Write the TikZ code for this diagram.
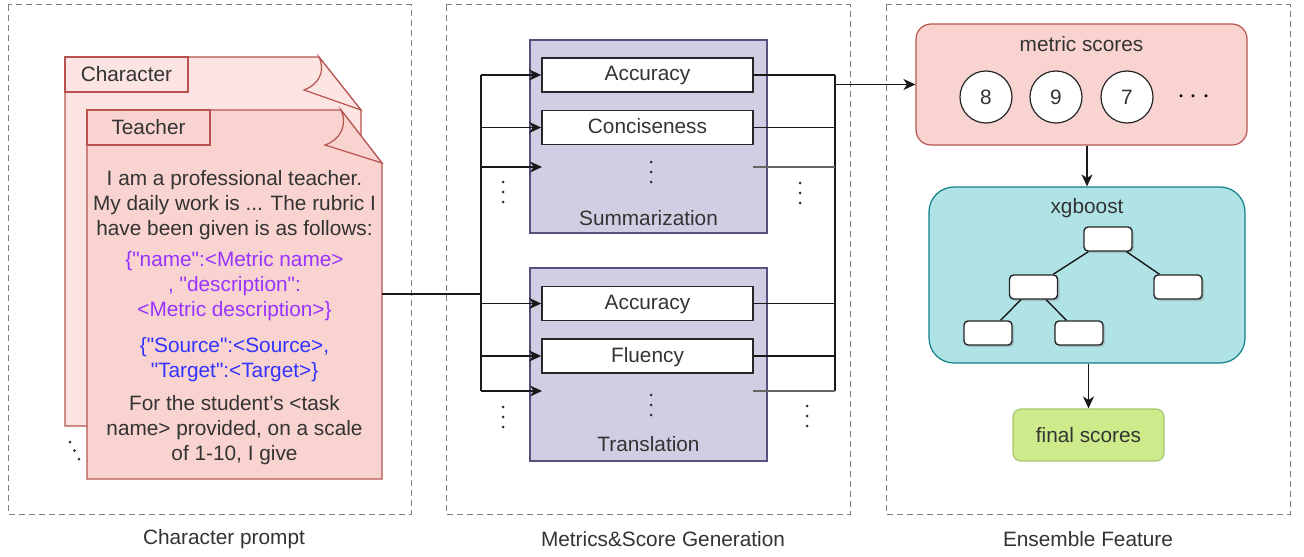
\documentclass[tikz,border=0pt]{standalone}
\usepackage{fontspec}
\setmainfont{Liberation Sans}[Ligatures=TeXOff]
\usepackage{tikz}
\usetikzlibrary{positioning, calc, arrows.meta, shadows}
\definecolor{docline}{HTML}{B85450}
\definecolor{docfill}{HTML}{F8D3CF}
\definecolor{docback}{HTML}{FBE4E2}
\definecolor{taskfill}{HTML}{D0CEE2}
\definecolor{taskline}{HTML}{56517E}
\definecolor{boostfill}{HTML}{B0E3E6}
\definecolor{boostline}{HTML}{0E8088}
\definecolor{finalfill}{HTML}{CDEB8B}
\definecolor{finalline}{HTML}{A7C56F}
\definecolor{txtgray}{HTML}{333333}
\definecolor{jsonpurple}{HTML}{9933FF}
\definecolor{jsonblue}{HTML}{3333FF}
\tikzset{
	paneltext/.style={font=\fontsize{10.4}{12.5}\selectfont\color{txtgray}, inner sep=0pt}
}
\tikzset{
	panel/.style={draw=gray, dash pattern=on 3pt off 2pt, line width=0.5pt}
}
\tikzset{
	metricbox/.style={draw=black!85, fill=white, line width=0.8pt, minimum width=105.5pt, minimum height=17pt, text height=7.6pt, text depth=1.6pt, paneltext},
	taskbox/.style={draw=taskline, fill=taskfill, line width=0.6pt, minimum width=118.5pt, minimum height=96.5pt},
	scorecircle/.style={circle, draw=black!85, fill=white, line width=0.6pt, minimum size=26pt, paneltext},
	treenode/.style={draw=black!85, fill=white, rounded corners=2pt, line width=0.7pt, minimum width=24pt, minimum height=12pt,
		drop shadow={shadow xshift=1pt, shadow yshift=-1pt, opacity=0.35}},
	link/.style={line width=0.7pt, black!90},
	linkarrow/.style={link, -{Stealth[length=6pt, width=5.5pt, inset=1.8pt]}}
}
\newcommand{\vdotsat}[2]{\foreach \d in {-1,0,1} \fill[black!80] (#1,#2+10*\d) circle[radius=1.5];}

\begin{document}
\begin{tikzpicture}[x=0.5pt, y=-0.5pt]
  \useasboundingbox (0,0) rectangle (1304,556);
  % panels
  \draw[panel] (8,5) rectangle (411,514);
  \draw[panel] (446,5) rectangle (850,514);
  \draw[panel] (886,5) rectangle (1290,514);
  \node[paneltext] (promptlabel) at (224,539) {Character prompt};
  \node[paneltext] (genlabel) at (663,539) {Metrics\&Score Generation};
  \node[paneltext] (enslabel) at (1088,539) {Ensemble Feature};

  % character cards
  \draw[docline, fill=docback, line width=0.6pt] (65,57) -- (319,57) -- (361,110) -- (361,426) -- (65,426) -- cycle;
  \draw[docline, fill=docback, line width=0.6pt] (319,57) .. controls (326,72) and (318,85) .. (304,90) -- (361,110) -- cycle;
  \draw[docline, fill=docback, line width=0.6pt] (65,57) rectangle (188,92);
  \node[paneltext] (charactertab) at (126.5,74.5) {Character};
  \fill[black!80] (70,442) circle[radius=1.5] (74.5,450.5) circle[radius=1.5] (79,459) circle[radius=1.5];

  \draw[docline, fill=docfill, line width=0.6pt] (87,110) -- (341,110) -- (382,163) -- (382,479) -- (87,479) -- cycle;
  \draw[docline, fill=docfill, line width=0.6pt] (341,110) .. controls (348,125) and (340,140) .. (325,145) -- (382,163) -- cycle;
  \draw[docline, fill=docfill, line width=0.6pt] (87,110) rectangle (210,145);
  \node[paneltext] (teachertab) at (148.5,127.5) {Teacher};
  \node[paneltext, align=center] (intro) at (234.5,205) {I am a professional teacher.\\My daily work is ... The rubric I\\have been given is as follows:};
  \node[paneltext, align=center, color=jsonpurple] (rubric) at (234.5,286) {\{"name":<Metric name>\\, "description":\\<Metric description>\}};
  \node[paneltext, align=center, color=jsonblue] (pair) at (234.5,360) {\{"Source":<Source>,\\"Target":<Target>\}};
  \node[paneltext, align=center] (ask) at (234.5,430) {For the student’s <task\\name> provided, on a scale\\of 1-10, I give};
  \coordinate (promptout) at (382,294);

  % task groups
  \node[taskbox] (summ) at (648.5,136.5) {};
  \node[paneltext] (summlabel) at (648.5,218) {Summarization};
  \node[metricbox] (sacc) at (647.5,75) {Accuracy};
  \node[metricbox] (scon) at (647.5,127.5) {Conciseness};
  \vdotsat{651}{172}
  \node[taskbox] (trans) at (648.5,364.5) {};
  \node[paneltext] (translabel) at (648.5,444) {Translation};
  \node[metricbox] (tacc) at (647.5,303.5) {Accuracy};
  \node[metricbox] (tflu) at (647.5,356) {Fluency};
  \vdotsat{651}{405}
  \vdotsat{503}{192}
  \vdotsat{800}{193}
  \vdotsat{503}{417}
  \vdotsat{807}{416}

  % buses
  \coordinate (lbustop) at (481,75);
  \coordinate (lbusbot) at (481,391);
  \coordinate (rbustop) at (835,75);
  \coordinate (rbusbot) at (835,391);
  \coordinate (sdotin) at (542,167);
  \coordinate (sdotout) at (753,167);
  \coordinate (tdotin) at (542,391);
  \coordinate (tdotout) at (753,391);
  \draw[link] (promptout) -- (lbustop |- promptout);
  \draw[link] (lbustop) -- (lbusbot);
  \draw[link] (rbustop) -- (rbusbot);
  \foreach \b in {sacc, scon, tacc, tflu} {
    \draw[linkarrow] (lbustop |- \b.west) -- (\b.west);
    \draw[link] (\b.east) -- (rbustop |- \b.east);
  }
  \foreach \b in {sdot, tdot} {
    \draw[linkarrow] (lbustop |- \b in) -- (\b in);
    \draw[link, black!60] (\b out) -- (rbustop |- \b out);
  }

  % ensemble
  \node[draw=docline, fill=docfill, rounded corners=7.5pt, line width=0.6pt, minimum width=165.5pt, minimum height=60.5pt] (scores) at (1081.5,84.5) {};
  \node[paneltext] (scoreslabel) at (1081.5,44) {metric scores};
  \node[scorecircle] (s8) at (986,97) {8};
  \node[scorecircle] (s9) at (1056,97) {9};
  \node[scorecircle] (s7) at (1127,97) {7};
  \node[paneltext, font=\fontsize{15}{15}\selectfont] (smore) at (1194,97) {$\cdots$};
  \draw[linkarrow, line width=0.9pt] (rbustop |- scores.west) -- (scores.west);

  \node[draw=boostline, fill=boostfill, rounded corners=12.5pt, line width=0.6pt, minimum width=158pt, minimum height=88pt] (boost) at (1087,275) {};
  \node[paneltext] (boostlabel) at (1087,208) {xgboost};
  \node[treenode] (root) at (1108,239) {};
  \node[treenode] (lc) at (1033.5,287) {};
  \node[treenode] (rc) at (1178,287) {};
  \node[treenode] (ll) at (988,333) {};
  \node[treenode] (lr) at (1079,333) {};
  \draw[link] (root) -- (lc);
  \draw[link] (root) -- (rc);
  \draw[link] (lc) -- (ll);
  \draw[link] (lc) -- (lr);

  \node[draw=finalline, fill=finalfill, rounded corners=4pt, line width=0.6pt, minimum width=75.5pt, minimum height=26pt, paneltext] (final) at (1088.5,435) {final scores};
  \draw[linkarrow] (boost.north |- scores.south) -- (boost.north);
  \draw[linkarrow] (boost.south -| final.north) -- (final.north);
\end{tikzpicture}
\end{document}
